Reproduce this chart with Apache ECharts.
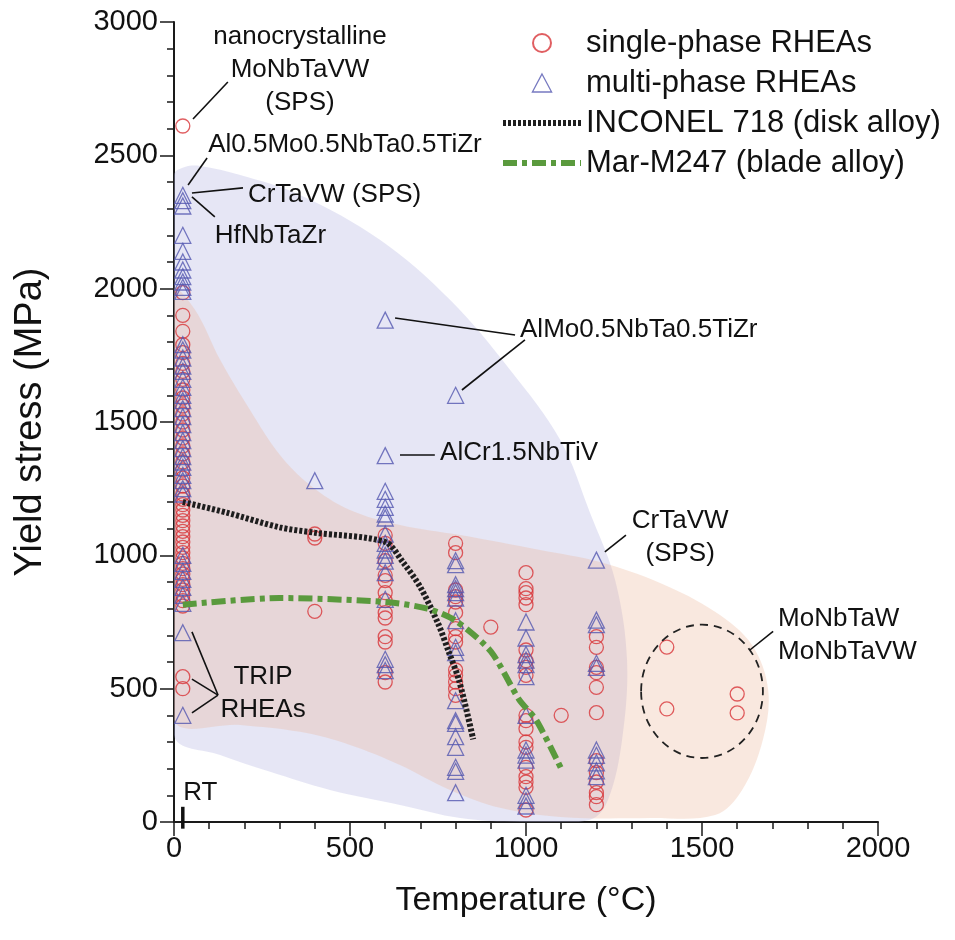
<!DOCTYPE html>
<html>
<head>
<meta charset="utf-8">
<script src="https://cdn.jsdelivr.net/npm/echarts@6/dist/echarts.min.js"></script>
<style>
  html, body { margin: 0; padding: 0; background: #fff; }
  #main { width: 955px; height: 940px; }
</style>
</head>
<body>
<div id="main"></div>
<script>
var FONT = '"Liberation Sans", Arial, sans-serif';

// single-phase RHEAs: test temperatures and yield stresses measured at each
var singleT = [25, 400, 600, 800, 900, 1000, 1100, 1200, 1400, 1600];
var singleStress = [
  [2610, 1985, 1900, 1840, 1790, 1760, 1720, 1690, 1660, 1620, 1590, 1560, 1530, 1500, 1470,
   1440, 1410, 1380, 1350, 1320, 1290, 1260, 1230, 1210, 1190, 1170, 1150, 1130, 1110, 1090,
   1070, 1050, 1030, 1010, 990, 970, 950, 930, 910, 890, 870, 850, 830, 810, 545, 500],
  [1080, 1065, 790],
  [1075, 1045, 980, 925, 905, 860, 830, 785, 765, 695, 675, 560, 525],
  [1045, 1010, 870, 845, 825, 785, 725, 695, 675, 570, 550, 525, 500, 475],
  [731],
  [935, 875, 860, 840, 815, 645, 605, 580, 550, 400, 380, 350, 300, 280, 205, 170, 150, 130, 45],
  [400],
  [695, 655, 580, 560, 505, 410, 230, 185, 150, 110, 95, 65],
  [656, 424],
  [480, 409]
];

// multi-phase RHEAs
var multiT = [25, 400, 600, 800, 1000, 1200];
var multiStress = [
  [2350, 2330, 2310, 2200, 2140, 2100, 2070, 2045, 2025, 2005, 1990, 1790, 1770, 1740, 1710,
   1690, 1660, 1630, 1600, 1580, 1550, 1520, 1490, 1460, 1430, 1400, 1370, 1350, 1330, 1300,
   1280, 1250, 1230, 1000, 970, 940, 910, 880, 850, 820, 710, 400],
  [1280],
  [1882, 1374, 1240, 1210, 1180, 1155, 1140, 1080, 1045, 1020, 1000, 978, 935, 835, 610, 590, 568],
  [1600, 980, 965, 890, 875, 860, 840, 755, 655, 635, 455, 380, 370, 320, 280, 205, 190, 110],
  [750, 690, 628, 607, 590, 545, 400, 270, 251, 232, 100, 80, 60],
  [982, 757, 740, 595, 580, 270, 250, 222, 192, 170]
];

// reference alloys
var inconelT = [25, 150, 300, 400, 600, 650, 700, 750, 780, 810, 850];
var inconelStress = [1200, 1160, 1105, 1085, 1050, 975, 880, 745, 640, 530, 310];
var marT = [25, 300, 600, 720, 800, 900, 980, 1030, 1100];
var marStress = [815, 840, 825, 800, 755, 640, 460, 380, 200];

// shaded envelopes (temperature, stress)
var multiRegion = [[0, 2426], [31, 2456], [74, 2460], [188, 2426], [358, 2351], [585, 2183],
  [784, 1958], [955, 1695], [1097, 1433], [1182, 1159], [1253, 908], [1287, 608],
  [1273, 308], [1233, 83], [1182, 8], [983, 0], [813, 15], [642, 64], [443, 120],
  [273, 188], [131, 251], [0, 326], [0, 1400]];
var singleRegion = [[0, 1995], [60, 1920], [131, 1733], [216, 1545], [301, 1376], [386, 1264],
  [500, 1170], [642, 1114], [813, 1076], [1040, 1020], [1210, 975], [1381, 896],
  [1537, 788], [1642, 664], [1688, 495], [1673, 308], [1614, 120], [1537, 26],
  [1352, 15], [1097, 19], [926, 53], [784, 120], [642, 214], [500, 289], [358, 338],
  [188, 364], [0, 383], [0, 1200]];

// dashed ring round the high temperature group: centre and half-widths
var ringCentre = [1500, 490];
var ringHalf = [173, 250];

// annotation texts, anchors and leader segments
var noteTexts = ['nanocrystalline\nMoNbTaVW\n(SPS)', 'Al0.5Mo0.5NbTa0.5TiZr', 'CrTaVW (SPS)',
  'HfNbTaZr', 'AlMo0.5NbTa0.5TiZr', 'AlCr1.5NbTiV', 'CrTaVW\n(SPS)', 'MoNbTaW\nMoNbTaVW',
  'TRIP\nRHEAs', 'RT'];
var noteAt = [[358, 2820], [97, 2539], [210, 2351], [116, 2198], [983, 1845], [756, 1384],
  [1438, 1069], [1716, 700], [253, 484], [26, 109]];
var noteAlign = ['center', 'left', 'left', 'left', 'left', 'left', 'center', 'left', 'center', 'left'];
var leaders = [
  [[54, 2636], [153, 2775]],
  [[40, 2389], [94, 2490]],
  [[51, 2359], [196, 2378]],
  [[51, 2344], [116, 2269]],
  [[628, 1890], [969, 1826]],
  [[818, 1620], [997, 1808]],
  [[642, 1376], [741, 1376]],
  [[1224, 1013], [1284, 1076]],
  [[1636, 645], [1702, 715]],
  [[51, 713], [125, 476]],
  [[51, 536], [125, 476]],
  [[51, 409], [125, 476]]
];
var rtMark = [[25, 57], [25, -25]];

function pairs(temps, groups) {
  var out = [];
  temps.forEach(function (t, i) {
    groups[i].forEach(function (v) { out.push([t, v]); });
  });
  return out;
}
function series(xs, ys) {
  return xs.map(function (x, i) { return [x, ys[i]]; });
}

var myChart = echarts.init(document.getElementById('main'));
var axisColor = '#1a1a1a';
var inconelLine = { color: '#1e1e1e', width: 6, type: [3, 2] };
var marLine = { color: '#5a9a3d', width: 6, type: [14, 5, 5, 5] };
// hollow triangle for the legend, drawn square so it is not stretched
var triangleIcon = 'path://M9,1L17,16L1,16Z';

var option = {
  animation: false,
  backgroundColor: '#fff',
  textStyle: { fontFamily: FONT },
  grid: { left: 174, top: 22, width: 704, height: 800 },
  legend: {
    orient: 'vertical',
    left: 500,
    top: 26,
    padding: 0,
    itemWidth: 78,
    itemHeight: 18,
    itemGap: 6,
    symbolKeepAspect: true,
    selectedMode: false,
    textStyle: { fontSize: 31, color: '#111', fontFamily: FONT, lineHeight: 34 },
    data: [
      { name: 'single-phase RHEAs' },
      { name: 'multi-phase RHEAs', icon: triangleIcon,
        itemStyle: { color: 'rgba(0,0,0,0)', borderColor: '#5457b0', borderWidth: 1.3 } },
      { name: 'INCONEL 718 (disk alloy)', itemStyle: { opacity: 0 }, lineStyle: inconelLine },
      { name: 'Mar-M247 (blade alloy)', itemStyle: { opacity: 0 }, lineStyle: marLine }
    ]
  },
  xAxis: {
    type: 'value', min: 0, max: 2000, interval: 500,
    name: 'Temperature (°C)', nameLocation: 'middle', nameGap: 62,
    nameTextStyle: { fontSize: 34, color: '#111', fontFamily: FONT },
    axisLine: { onZero: false, lineStyle: { color: axisColor, width: 2 } },
    axisTick: { length: 14, lineStyle: { color: axisColor, width: 1.5 } },
    minorTick: { show: true, splitNumber: 5, length: 7, lineStyle: { color: axisColor, width: 1.5 } },
    splitLine: { show: false },
    axisLabel: { fontSize: 29, color: '#111', margin: 12, fontFamily: FONT,
      formatter: function (v) { return String(v); } }
  },
  yAxis: {
    type: 'value', min: 0, max: 3000, interval: 500,
    name: 'Yield stress (MPa)', nameLocation: 'middle', nameGap: 124,
    nameTextStyle: { fontSize: 38, color: '#111', fontFamily: FONT },
    axisLine: { onZero: false, lineStyle: { color: axisColor, width: 2 } },
    axisTick: { length: 14, lineStyle: { color: axisColor, width: 1.5 } },
    minorTick: { show: true, splitNumber: 5, length: 7, lineStyle: { color: axisColor, width: 1.5 } },
    splitLine: { show: false },
    axisLabel: { fontSize: 29, color: '#111', margin: 16, fontFamily: FONT,
      formatter: function (v) { return String(v); } }
  },
  series: [
    {
      type: 'custom',
      silent: true,
      z: 1,
      data: [[0, 0], [0, 0]],
      renderItem: function (params, api) {
        var outline = params.dataIndex === 0 ? multiRegion : singleRegion;
        var fill = params.dataIndex === 0 ? 'rgba(178,178,225,0.33)' : 'rgba(236,180,150,0.30)';
        var cs = params.coordSys;
        return {
          type: 'group',
          clipPath: { type: 'rect', shape: { x: cs.x, y: cs.y, width: cs.width, height: cs.height } },
          children: [{
            type: 'polygon',
            shape: { points: outline.map(function (p) { return api.coord(p); }), smooth: 0.35 },
            style: { fill: fill }
          }]
        };
      }
    },
    {
      name: 'single-phase RHEAs',
      type: 'scatter',
      z: 3,
      symbol: 'circle',
      symbolSize: 14,
      itemStyle: { color: 'rgba(0,0,0,0)', borderColor: '#d8363a', borderWidth: 1.3 },
      data: pairs(singleT, singleStress)
    },
    {
      name: 'multi-phase RHEAs',
      type: 'scatter',
      z: 3,
      symbol: 'triangle',
      symbolSize: 16,
      symbolKeepAspect: true,
      itemStyle: { color: 'rgba(0,0,0,0)', borderColor: '#5457b0', borderWidth: 1.3 },
      data: pairs(multiT, multiStress)
    },
    {
      name: 'INCONEL 718 (disk alloy)',
      type: 'line',
      z: 4,
      smooth: 0.3,
      symbol: 'none',
      itemStyle: { color: '#1e1e1e' },
      lineStyle: inconelLine,
      data: series(inconelT, inconelStress)
    },
    {
      name: 'Mar-M247 (blade alloy)',
      type: 'line',
      z: 4,
      smooth: 0.25,
      symbol: 'none',
      itemStyle: { color: '#5a9a3d' },
      lineStyle: marLine,
      data: series(marT, marStress)
    },
    {
      type: 'custom',
      silent: true,
      z: 5,
      data: [ringCentre],
      renderItem: function (params, api) {
        var c = api.coord([api.value(0), api.value(1)]);
        var s = api.size(ringHalf);
        return {
          type: 'ellipse',
          shape: { cx: c[0], cy: c[1], rx: s[0], ry: s[1] },
          style: { fill: 'none', stroke: '#222', lineWidth: 1.8, lineDash: [8, 6] }
        };
      }
    },
    {
      type: 'custom',
      silent: true,
      z: 6,
      data: leaders.concat([rtMark]).map(function (l, i) { return [i, 0]; }),
      renderItem: function (params, api) {
        var isRT = params.dataIndex === leaders.length;
        var seg = isRT ? rtMark : leaders[params.dataIndex];
        var a = api.coord(seg[0]);
        var b = api.coord(seg[1]);
        return {
          type: 'line',
          shape: { x1: a[0], y1: a[1], x2: b[0], y2: b[1] },
          style: { stroke: '#111', lineWidth: isRT ? 3.5 : 1.6 }
        };
      }
    },
    {
      type: 'custom',
      silent: true,
      z: 7,
      data: noteAt.map(function (p, i) { return [i, 0]; }),
      renderItem: function (params, api) {
        var i = params.dataIndex;
        var p = api.coord(noteAt[i]);
        return {
          type: 'text',
          x: p[0], y: p[1],
          style: {
            text: noteTexts[i],
            fontSize: 26,
            fontFamily: FONT,
            fill: '#111',
            align: noteAlign[i],
            verticalAlign: 'middle',
            lineHeight: 33
          }
        };
      }
    }
  ]
};

option && myChart.setOption(option);
</script>
</body>
</html>
